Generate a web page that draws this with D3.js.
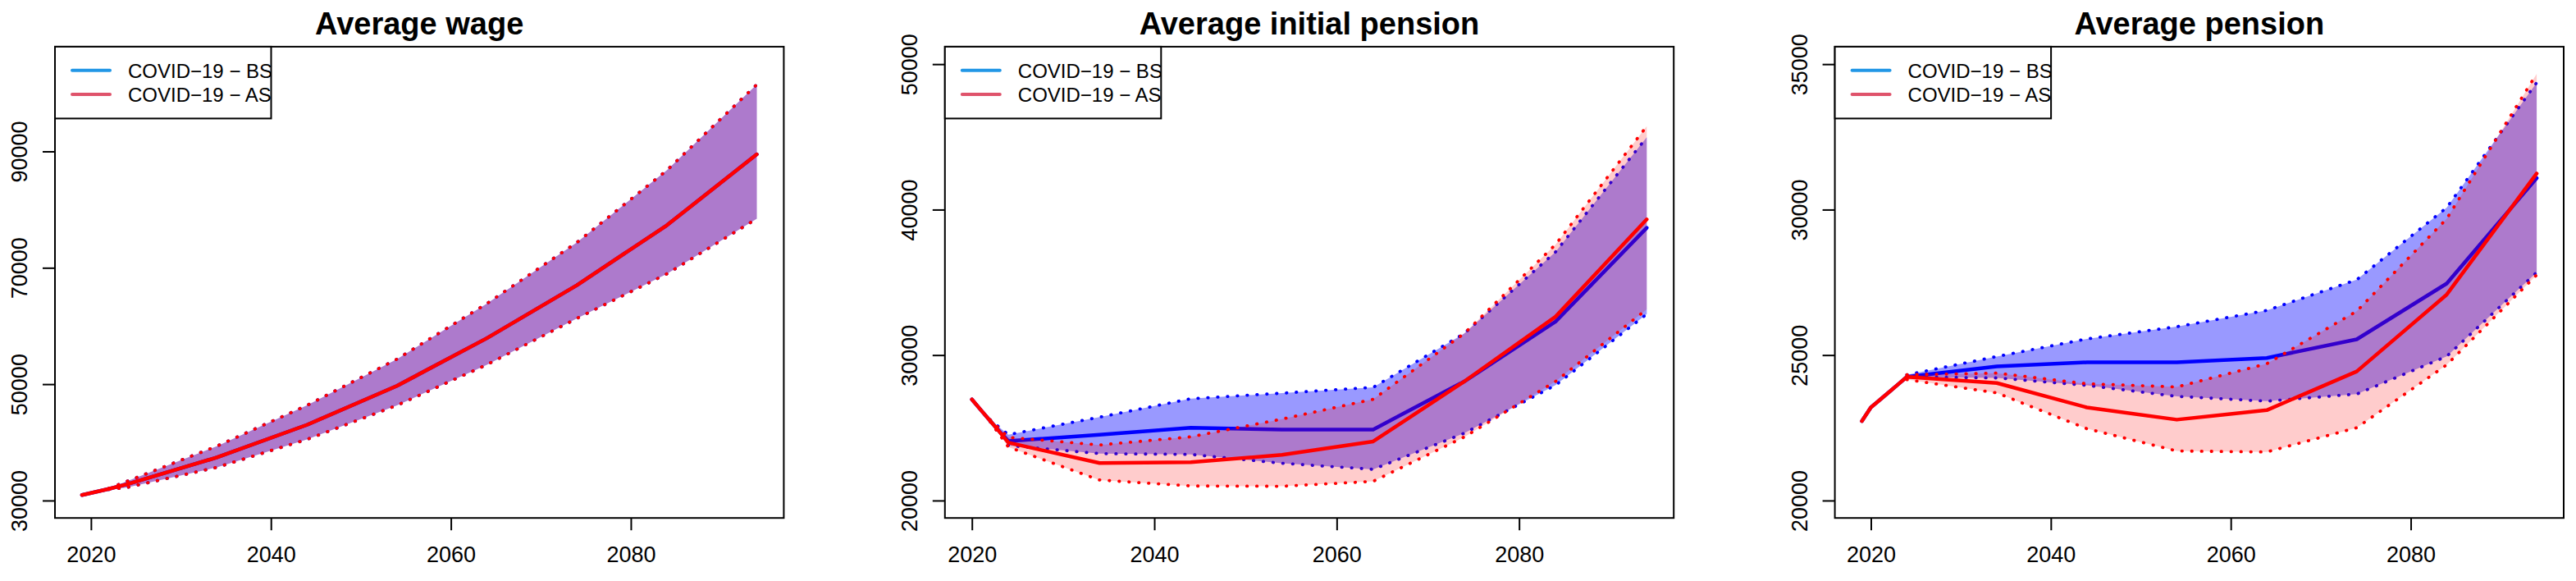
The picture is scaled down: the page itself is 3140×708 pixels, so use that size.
<!DOCTYPE html>
<html>
<head>
<meta charset="utf-8">
<script src="https://cdn.jsdelivr.net/npm/d3@7"></script>
<style>
  html, body { margin: 0; padding: 0; background: #ffffff; }
  svg { display: block; font-family: "Liberation Sans", Arial, Helvetica, sans-serif; }
</style>
</head>
<body>
<svg id="chart" width="3140" height="708"></svg>
<script>
// ---------------- DATA ----------------
const titles = ["Average wage", "Average initial pension", "Average pension"];
const seriesNames = ["COVID\u221219 \u2212 BS", "COVID\u221219 \u2212 AS"];
const xTicks = [2020, 2040, 2060, 2080];

// Panel 1: Average wage
const wageYears = [2019, 2020, 2021, 2022, 2023, 2024, 2034, 2044, 2054, 2064, 2074, 2084, 2094];
const wageBS = [30950, 31300, 31650, 32000, 32400, 32800, 37400, 43000, 49700, 57900, 67000, 77300, 89500];
const wageAS = [30950, 31300, 31650, 32000, 32400, 32800, 37400, 43000, 49700, 57900, 67000, 77300, 89500];
const wageBandYears = [2022, 2024, 2034, 2044, 2054, 2064, 2074, 2084, 2094];
const wageBSUpper = [32100, 33300, 39350, 46350, 54300, 63850, 74350, 86750, 101500];
const wageBSLower = [31900, 32250, 35700, 40500, 46350, 53350, 61300, 68950, 78450];
const wageASUpper = [32100, 33300, 39350, 46350, 54300, 63850, 74350, 86750, 101500];
const wageASLower = [31900, 32250, 35700, 40500, 46350, 53350, 61300, 68950, 78450];
const wageYTicks = [30000, 50000, 70000, 90000];
const wageXRange = [2019, 2094];
const wageYRange = [30000, 105000];

// Panel 2: Average initial pension
const initYears = [2020, 2021, 2022, 2023, 2024, 2034, 2044, 2054, 2064, 2074, 2084, 2094];
const initBS = [26950, 26210, 25480, 24760, 24080, 24520, 25000, 24880, 24880, 28190, 32300, 38750];
const initAS = [26950, 26210, 25480, 24740, 23980, 22580, 22630, 23140, 24060, 28190, 32640, 39330];
const initBandYears = [2022, 2024, 2034, 2044, 2054, 2064, 2074, 2084, 2094];
const initBSUpper = [25550, 24530, 25730, 27000, 27380, 27780, 31490, 37090, 44970];
const initBSLower = [25420, 23780, 23225, 23170, 22560, 22145, 24630, 27930, 32815];
const initASUpper = [25550, 24340, 23820, 24380, 25600, 26960, 31490, 37600, 45730];
const initASLower = [25420, 23680, 21410, 21000, 20980, 21315, 24370, 28190, 33145];
const initYTicks = [20000, 30000, 40000, 50000];
const initXRange = [2020, 2094];
const initYRange = [20000, 50000];

// Panel 3: Average pension
const penYears = [2019, 2020, 2021, 2022, 2023, 2024, 2034, 2044, 2054, 2064, 2074, 2084, 2094];
const penBS = [22730, 23200, 23460, 23720, 23985, 24250, 24610, 24750, 24750, 24900, 25540, 27460, 31085];
const penAS = [22730, 23200, 23460, 23720, 23985, 24250, 24040, 23200, 22780, 23105, 24437, 27080, 31240];
const penBandYears = [2024, 2034, 2044, 2054, 2064, 2074, 2084, 2094];
const penBSUpper = [24320, 24950, 25555, 25975, 26535, 27590, 30070, 34365];
const penBSLower = [24246, 24215, 23960, 23580, 23415, 23660, 24957, 27843];
const penASUpper = [24322, 24380, 24015, 23903, 24701, 26508, 29686, 34669];
const penASLower = [24157, 23700, 22470, 21704, 21668, 22502, 24665, 27754];
const penYTicks = [20000, 25000, 30000, 35000];
const penXRange = [2019, 2094];
const penYRange = [20000, 35000];

// ---------------- LAYOUT ----------------
const plotLefts = [67, 1151.8, 2236.6];
const plotW = 888.4;
const plotTop = 56.9, plotBottom = 631.2;

const panels = [
  { title: titles[0], years: wageYears, bs: wageBS, as: wageAS, bandYears: wageBandYears,
    bsU: wageBSUpper, bsL: wageBSLower, asU: wageASUpper, asL: wageASLower,
    yTicks: wageYTicks, xr: wageXRange, yr: wageYRange },
  { title: titles[1], years: initYears, bs: initBS, as: initAS, bandYears: initBandYears,
    bsU: initBSUpper, bsL: initBSLower, asU: initASUpper, asL: initASLower,
    yTicks: initYTicks, xr: initXRange, yr: initYRange },
  { title: titles[2], years: penYears, bs: penBS, as: penAS, bandYears: penBandYears,
    bsU: penBSUpper, bsL: penBSLower, asU: penASUpper, asL: penASLower,
    yTicks: penYTicks, xr: penXRange, yr: penYRange }
];

const svg = d3.select("#chart");
svg.append("rect").attr("width", 3140).attr("height", 708).attr("fill", "#ffffff");

function padR(r) { const e = (r[1] - r[0]) * 0.04; return [r[0] - e, r[1] + e]; }

panels.forEach((p, i) => {
  const left = plotLefts[i], right = left + plotW;
  const x = d3.scaleLinear().domain(padR(p.xr)).range([left, right]);
  const y = d3.scaleLinear().domain(padR(p.yr)).range([plotBottom, plotTop]);
  const g = svg.append("g");

  const clipId = "clip" + i;
  g.append("clipPath").attr("id", clipId).append("rect")
    .attr("x", left).attr("y", plotTop).attr("width", plotW).attr("height", plotBottom - plotTop);
  const data = g.append("g").attr("clip-path", `url(#${clipId})`);

  const line = d3.line().x(d => x(d[0])).y(d => y(d[1]));
  const area = d3.area().x(d => x(d[0])).y0(d => y(d[1])).y1(d => y(d[2]));

  const groups = [
    { main: p.bs, up: p.bsU, lo: p.bsL, fill: "rgba(0,0,255,0.4)", col: "#0000FF" },
    { main: p.as, up: p.asU, lo: p.asL, fill: "rgba(255,0,0,0.2)", col: "#FF0000" }
  ];
  groups.forEach(s => {
    const band = p.bandYears.map((yr, k) => [yr, s.lo[k], s.up[k]]);
    data.append("path").attr("d", area(band)).attr("fill", s.fill).attr("stroke", "none");
    data.append("path").attr("d", line(p.years.map((yr, k) => [yr, s.main[k]])))
      .attr("fill", "none").attr("stroke", s.col).attr("stroke-width", 4.5)
      .attr("stroke-linejoin", "round").attr("stroke-linecap", "round");
    [s.up, s.lo].forEach(arr => {
      data.append("path").attr("d", line(p.bandYears.map((yr, k) => [yr, arr[k]])))
        .attr("fill", "none").attr("stroke", s.col).attr("stroke-width", 3.8)
        .attr("stroke-dasharray", "0.5,11.5").attr("stroke-linecap", "round");
    });
  });

  // axes
  const xa = g.append("g").attr("transform", `translate(0,${plotBottom})`)
    .call(d3.axisBottom(x).tickValues(xTicks).tickSize(15).tickSizeOuter(0).tickPadding(20).tickFormat(d3.format("d")));
  const ya = g.append("g").attr("transform", `translate(${left},0)`)
    .call(d3.axisLeft(y).tickValues(p.yTicks).tickSize(15).tickSizeOuter(0).tickFormat(d3.format("d")));
  [xa, ya].forEach(a => {
    a.select(".domain").remove();
    a.selectAll(".tick line").attr("stroke", "#000").attr("stroke-width", 2);
    a.selectAll(".tick text").attr("fill", "#000").style("font-size", "27px")
      .style("font-family", "'Liberation Sans', Arial, sans-serif");
  });
  ya.selectAll(".tick text").attr("x", null).attr("dy", null).attr("y", null)
    .attr("text-anchor", "middle").attr("transform", "translate(-34,0) rotate(-90)");

  // box
  g.append("rect").attr("x", left).attr("y", plotTop).attr("width", plotW).attr("height", plotBottom - plotTop)
    .attr("fill", "none").attr("stroke", "#000").attr("stroke-width", 2);

  // title
  g.append("text").attr("x", (left + right) / 2).attr("y", 41.5).attr("text-anchor", "middle")
    .style("font-size", "38px").style("font-weight", "bold").attr("fill", "#000").text(p.title);

  // legend
  const lgW = 263.5, lgH = 87.5;
  const lclip = "lclip" + i;
  g.append("clipPath").attr("id", lclip).append("rect")
    .attr("x", left).attr("y", plotTop).attr("width", lgW).attr("height", lgH);
  g.append("rect").attr("x", left).attr("y", plotTop).attr("width", lgW).attr("height", lgH)
    .attr("fill", "#ffffff").attr("stroke", "none");
  const lg = g.append("g").attr("clip-path", `url(#${lclip})`);
  const lgCols = ["#2297E6", "#DF536B"];
  const rowY = [85.7, 115];
  seriesNames.forEach((nm, k) => {
    lg.append("line").attr("x1", left + 21).attr("x2", left + 67).attr("y1", rowY[k]).attr("y2", rowY[k])
      .attr("stroke", lgCols[k]).attr("stroke-width", 4).attr("stroke-linecap", "round");
    lg.append("text").attr("x", left + 89).attr("y", rowY[k] + 9).style("font-size", "24px")
      .attr("fill", "#000").text(nm);
  });
  g.append("rect").attr("x", left).attr("y", plotTop).attr("width", lgW).attr("height", lgH)
    .attr("fill", "none").attr("stroke", "#000").attr("stroke-width", 2);
});
</script>
</body>
</html>
